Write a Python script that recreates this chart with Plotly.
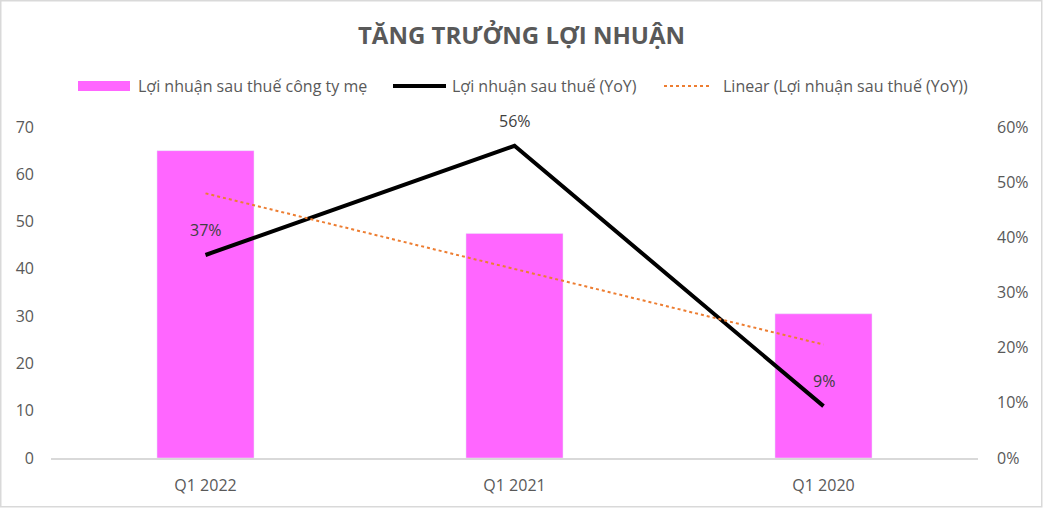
import numpy as np
import plotly.graph_objects as go

categories = ["Q1 2022", "Q1 2021", "Q1 2020"]
profit = [65, 47.5, 30.5]
yoy = [0.368, 0.566, 0.094]
yoy_labels = ["37%", "56%", "9%"]
legend_names = ["Lợi nhuận sau thuế công ty mẹ", "Lợi nhuận sau thuế (YoY)",
                "Linear (Lợi nhuận sau thuế (YoY))"]

xi = np.arange(len(categories))
slope, intercept = np.polyfit(xi, yoy, 1)
trend = list(slope * xi + intercept)

W, H = 1043, 508
L, R, T, B = 51, 65, 127, 50
pw, ph = W - L - R, H - T - B

font = "'Open Sans', sans-serif"
txt = "#595959"


def px(x):
    return (x - L) / pw


def py(y):
    return (T + ph - y) / ph


fig = go.Figure()
fig.add_trace(go.Bar(x=categories, y=profit, name=legend_names[0],
                     marker_color="#FF66FF", width=0.314, yaxis="y", showlegend=False))
fig.add_trace(go.Scatter(x=categories, y=yoy, name=legend_names[1],
                         mode="lines", line=dict(color="black", width=4),
                         yaxis="y2", showlegend=False))
fig.add_trace(go.Scatter(x=categories, y=trend, name=legend_names[2],
                         mode="lines", line=dict(color="#ED7D31", width=2, dash="dot"),
                         yaxis="y2", showlegend=False))

for c, v, t in zip(categories, yoy, yoy_labels):
    fig.add_annotation(x=c, y=v, xref="x", yref="y2", text=t, showarrow=False,
                       yshift=25, font=dict(size=16, color="#404040", family=font))

fig.update_layout(
    width=W, height=H,
    margin=dict(l=L, r=R, t=T, b=B, autoexpand=False),
    paper_bgcolor="white", plot_bgcolor="white",
    font=dict(family=font, size=16, color=txt),
    title=dict(text="<b>TĂNG TRƯỞNG LỢI NHUẬN</b>", x=0.5, xanchor="center",
               y=1 - 36 / H, yanchor="middle", xref="container", yref="container",
               font=dict(size=24, color=txt, family=font)),
    showlegend=False,
    bargap=0.2,
    xaxis=dict(showgrid=False, showline=True, linecolor="#D9D9D9", linewidth=2,
               ticks="", tickfont=dict(size=16, color=txt), automargin=False,
               ticklabelstandoff=12),
    yaxis=dict(range=[0, 70], dtick=10, showgrid=False, zeroline=False,
               showline=False, tickfont=dict(size=16, color=txt),
               ticklabelstandoff=16, automargin=False),
    yaxis2=dict(range=[0, 0.6], dtick=0.1, tickformat=".0%", overlaying="y", side="right",
                showgrid=False, zeroline=False, showline=False,
                tickfont=dict(size=16, color=txt), ticklabelstandoff=18, automargin=False),
)

# custom legend
leg_y = 86
fig.add_shape(type="rect", xref="paper", yref="paper", x0=px(78), x1=px(130),
              y0=py(91), y1=py(81), fillcolor="#FF66FF", line=dict(width=0))
fig.add_shape(type="line", xref="paper", yref="paper", x0=px(393), x1=px(446),
              y0=py(leg_y), y1=py(leg_y), line=dict(color="black", width=4))
fig.add_shape(type="line", xref="paper", yref="paper", x0=px(664), x1=px(711),
              y0=py(leg_y), y1=py(leg_y), line=dict(color="#ED7D31", width=2, dash="dot"))
for xpos, name in zip([136, 450, 721], legend_names):
    fig.add_annotation(xref="paper", yref="paper", x=px(xpos), y=py(leg_y), text=name,
                       xanchor="left", yanchor="middle", showarrow=False,
                       font=dict(size=16, color=txt, family=font))

# chart border
fig.add_shape(type="rect", xref="paper", yref="paper",
              x0=px(0.75), x1=px(W - 1.25), y0=py(H - 1.25), y1=py(0.75),
              line=dict(color="#D9D9D9", width=1.5), fillcolor="rgba(0,0,0,0)", layer="below")

fig.write_html("out.html", config={"displayModeBar": False},
               post_script="document.body.style.margin='0';document.body.style.overflow='hidden';")
